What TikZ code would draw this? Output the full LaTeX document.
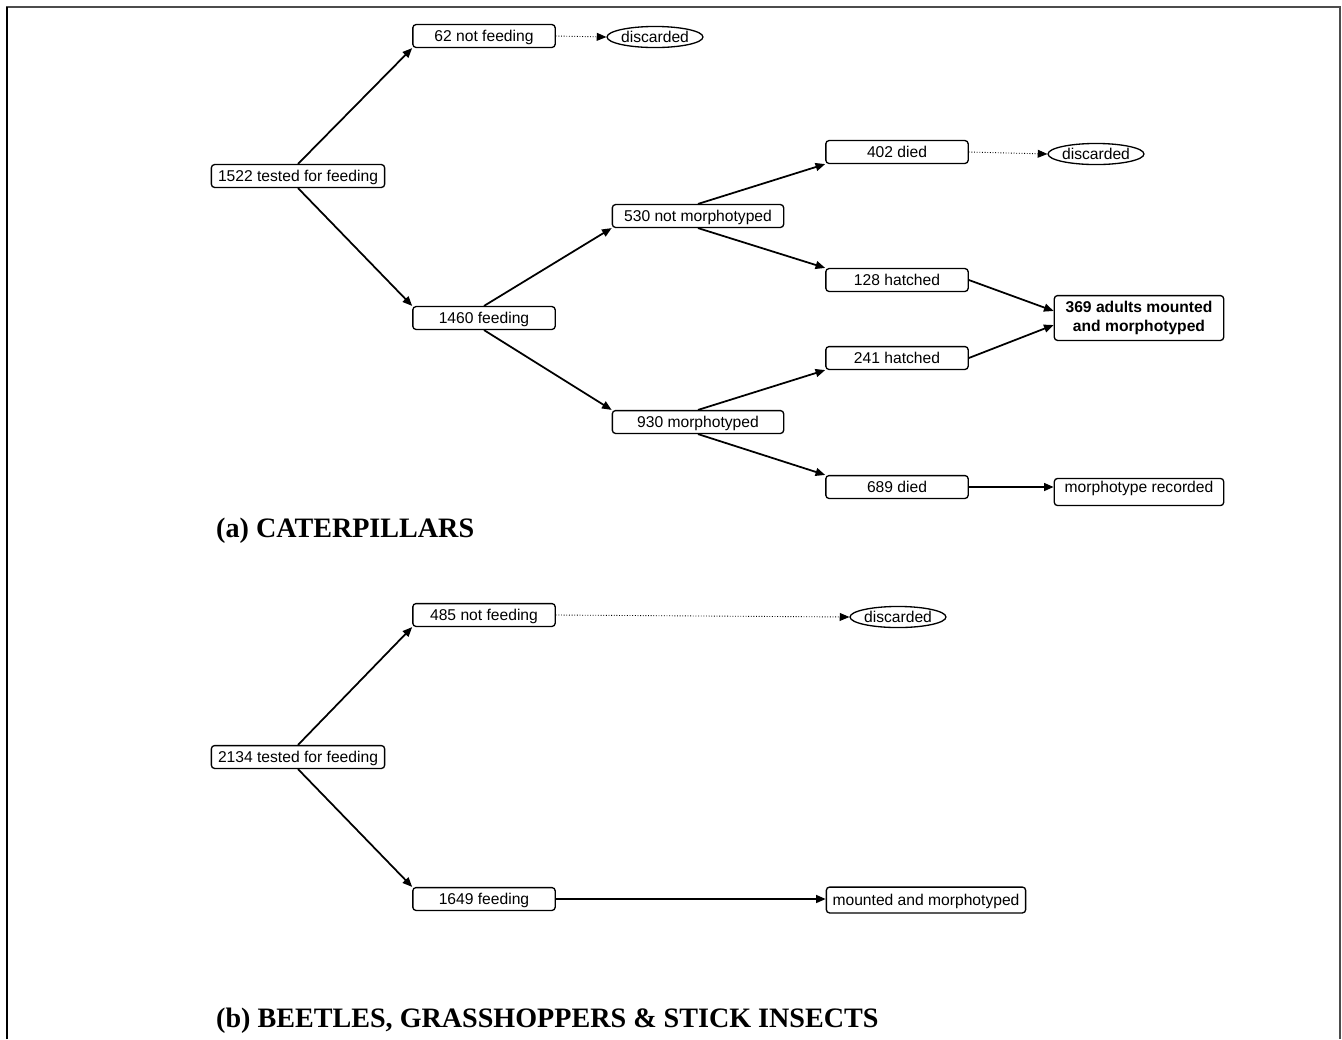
\documentclass[tikz,border=0pt]{standalone}
\usepackage{fontspec}
\setmainfont{Liberation Serif}
\newfontfamily\boxfont{Liberation Sans}
\usepackage{tikz}
\usetikzlibrary{arrows.meta}
\usetikzlibrary{shapes.geometric}
\tikzset{stage/.style={draw,rounded corners=1.8pt,line width=0.75pt,font=\boxfont\fontsize{8.9}{10.5}\selectfont,
           minimum width=81pt,minimum height=13pt,inner sep=1.5pt,text height=6.4pt,text depth=0.4pt},
         bin/.style={draw,ellipse,line width=0.75pt,font=\boxfont\fontsize{8.9}{10.5}\selectfont,
           inner sep=0pt,minimum width=52pt,minimum height=12pt,text height=6.4pt,text depth=0.4pt},
         feed/.style={line width=1pt,-{Triangle[length=5.5pt,width=4.5pt]}},
         drop/.style={line width=0.5pt,densely dotted,-{Triangle[length=5.5pt,width=4.5pt]}},
         caption/.style={font=\bfseries\fontsize{16}{18}\selectfont,anchor=west}}

\begin{document}
\begin{tikzpicture}[x=0.02cm,y=-0.02cm]
\useasboundingbox (0,0) rectangle (1342,1039);
\draw[line width=1.2pt,black!70] (7,1039)--(7,7)--(1340,7)--(1340,1039);
\draw[line width=1.2pt] (7,1039)--(7,7);

\node[stage,minimum width=98.6pt] (test1) at (298,176) {1522 tested for feeding};
\node[stage] (nofeed1) at (484,36) {62 not feeding};
\node[bin] (bin1) at (655,37) {discarded};
\node[stage] (feed1) at (484,318) {1460 feeding};
\node[stage,minimum width=97.5pt] (nomorph) at (698,216) {530 not morphotyped};
\node[stage,minimum width=97.5pt] (morph) at (698,422) {930 morphotyped};
\node[stage] (died1) at (897,152) {402 died};
\node[bin] (bin2) at (1096,154) {discarded};
\node[stage] (hatch1) at (897,280) {128 hatched};
\node[stage] (hatch2) at (897,358) {241 hatched};
\node[stage,minimum width=96.4pt,minimum height=25.5pt,text height=,text depth=,align=center,
      font=\boxfont\bfseries\fontsize{8.9}{10.5}\selectfont] (adults) at (1139,318) {369 adults mounted\\and morphotyped};
\node[stage] (died2) at (897,487) {689 died};
\node[stage,minimum width=96.4pt,text depth=6pt] (record) at (1139,492) {morphotype recorded};
\node[caption] (capa) at (210,531) {(a) CATERPILLARS};

\draw[feed] (test1.north)--(nofeed1.south west);
\draw[feed] (test1.south)--(feed1.north west);
\draw[drop] (nofeed1.east)--(bin1.west);
\draw[feed] (feed1.north)--(nomorph.south west);
\draw[feed] (feed1.south)--(morph.north west);
\draw[feed] (nomorph.north)--(died1.south west);
\draw[feed] (nomorph.south)--(hatch1.north west);
\draw[drop] (died1.east)--(bin2.west);
\draw[feed] (morph.north)--(hatch2.south west);
\draw[feed] (morph.south)--(died2.north west);
\draw[feed] (hatch1.east)--([yshift=4pt]adults.west);
\draw[feed] (hatch2.east)--([yshift=-4pt]adults.west);
\draw[feed] (died2.east)--(died2.east -| record.west);

\node[stage,minimum width=98.6pt] (test2) at (298,757) {2134 tested for feeding};
\node[stage] (nofeed2) at (484,615) {485 not feeding};
\node[bin] (bin3) at (898,617) {discarded};
\node[stage] (feed2) at (484,899) {1649 feeding};
\node[stage,minimum width=113.4pt,minimum height=14.7pt] (mounted) at (926,900) {mounted and morphotyped};
\node[caption] (capb) at (210,1021) {(b) BEETLES, GRASSHOPPERS \& STICK INSECTS};

\draw[feed] (test2.north)--(nofeed2.south west);
\draw[feed] (test2.south)--(feed2.north west);
\draw[drop] (nofeed2.east)--(bin3.west);
\draw[feed] (feed2.east)--(feed2.east -| mounted.west);
\end{tikzpicture}
\end{document}
